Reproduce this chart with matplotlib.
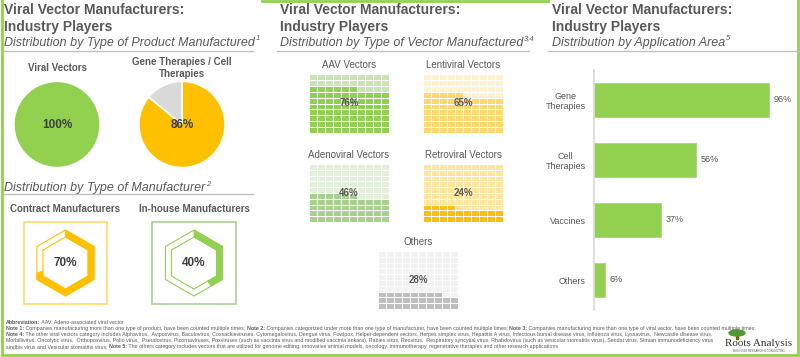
import numpy as np
import matplotlib
matplotlib.use("Agg")
import matplotlib.pyplot as plt
from matplotlib.colors import ListedColormap
from matplotlib.patches import Polygon, Rectangle, Ellipse

plt.rcParams['font.family'] = ['Liberation Sans', 'DejaVu Sans']

W, H = 800, 357
GREEN = '#92D050'
YELLOW = '#FFC000'
GREY = '#595959'

# ---- data ----
product_labels = ['Viral Vectors', 'Gene Therapies / Cell\nTherapies']
product_pct = [100, 86]

manufacturer_labels = ['Contract Manufacturers', 'In-house Manufacturers']
manufacturer_pct = [70, 40]

vector_labels = ['AAV Vectors', 'Lentiviral Vectors', 'Adenoviral Vectors',
                 'Retroviral Vectors', 'Others']
vector_pct = [76, 65, 46, 24, 28]

app_labels = ['Gene\nTherapies', 'Cell\nTherapies', 'Vaccines', 'Others']
app_pct = [96, 56, 37, 6]

fig = plt.figure(figsize=(W / 100, H / 100), dpi=100)
canvas = fig.add_axes([0, 0, 1, 1])
canvas.set_xlim(0, W)
canvas.set_ylim(H, 0)
canvas.axis('off')
renderer = fig.canvas.get_renderer()


def box(x0, y0, x1, y1):
    return [x0 / W, 1 - y1 / H, (x1 - x0) / W, (y1 - y0) / H]


def right_edge(t):
    bb = t.get_window_extent(renderer)
    return bb.x1


def rich(x, y, parts, size, color=GREY):
    # parts: list of (text, weight)
    for s, wt in parts:
        t = canvas.text(x, y, s, fontsize=size, fontweight=wt, color=color,
                        va='center', ha='left')
        x = right_edge(t)


def header(x, y_sep, x_sep0, x_sep1, sub, sup):
    canvas.text(x, 10, 'Viral Vector Manufacturers:', fontsize=10, fontweight='bold',
                color=GREY, va='center')
    canvas.text(x, 27, 'Industry Players', fontsize=10, fontweight='bold',
                color=GREY, va='center')
    subtitle(x, 43, sub, sup)
    canvas.plot([x_sep0, x_sep1], [y_sep, y_sep], color='#BFBFBF', lw=1)


def subtitle(x, y, sub, sup):
    t = canvas.text(x, y, sub, fontsize=9, style='italic', color=GREY, va='center')
    canvas.text(right_edge(t) + 0.5, y - 4, sup, fontsize=5.5, style='italic',
                color=GREY, va='center')


# ---- borders ----
canvas.plot([1.5, 1.5], [0, 354], color=GREEN, lw=2)
canvas.plot([797.5, 797.5], [0, 354], color=GREEN, lw=2)
canvas.plot([1.5, 797.5], [354.5, 354.5], color=GREEN, lw=2)
canvas.plot([262, 548], [0.5, 0.5], color=GREEN, lw=2)

# ---- headers ----
header(4, 51, 3, 253, 'Distribution by Type of Product Manufactured', '1')
header(280, 51, 277, 529, 'Distribution by Type of Vector Manufactured', '3,4')
header(552, 51, 548, 798, 'Distribution by Application Area', '5')

# ---- pies ----
pie_centers = [(57, 124.5), (182, 124.5)]
pie_colors = [[GREEN], [YELLOW, '#D9D9D9']]
pie_r = 44
for (cx, cy), lab, pct, cols in zip(pie_centers, product_labels, product_pct, pie_colors):
    ax = fig.add_axes(box(cx - pie_r, cy - pie_r, cx + pie_r, cy + pie_r))
    vals = [pct] if pct >= 100 else [pct, 100 - pct]
    ax.pie(vals, colors=cols, startangle=90, counterclock=False, radius=1,
           wedgeprops=dict(edgecolor='white', linewidth=1.2))
    ax.set_xlim(-1.02, 1.02)
    ax.set_ylim(-1.02, 1.02)
    ax.text(0, 0, f'{pct}%', fontsize=8.5, fontweight='bold', color='#404040',
            ha='center', va='center')
    canvas.text(cx, 68, lab, fontsize=7, fontweight='bold', color=GREY,
                ha='center', va='center', linespacing=1.2)

# ---- manufacturer type hexagons ----
subtitle(4, 188, 'Distribution by Type of Manufacturer', '2')
canvas.plot([3, 253], [194, 194], color='#BFBFBF', lw=1)

hex_boxes = [(24, 222, 107, 304), (152, 222, 236, 304)]
hex_colors = [(YELLOW, '#FFD966'), (GREEN, '#A9D18E')]


def hex_point(cx, cy, r, t):
    ang = np.deg2rad([90, 30, -30, -90, -150, 150, 90])
    vx = cx + r * np.cos(ang)
    vy = cy - r * np.sin(ang)
    t = t * 6
    i = min(int(np.floor(t)), 5)
    f = t - i
    return (vx[i] + (vx[i + 1] - vx[i]) * f, vy[i] + (vy[i + 1] - vy[i]) * f)


def hex_path(cx, cy, r, t0, t1):
    ts = [t0] + [k / 6 for k in range(1, 6) if t0 < k / 6 < t1] + [t1]
    return [hex_point(cx, cy, r, t) for t in ts]


for (x0, y0, x1, y1), lab, pct, (col, edge) in zip(hex_boxes, manufacturer_labels,
                                                     manufacturer_pct, hex_colors):
    canvas.add_patch(Rectangle((x0, y0), x1 - x0, y1 - y0, fill=False,
                               edgecolor=edge, lw=1.2))
    canvas.text((x0 + x1) / 2, 209, lab, fontsize=7, fontweight='bold', color=GREY,
                ha='center', va='center')
    cx, cy = (x0 + x1) / 2, 263
    ro, ri = 33, 26
    for r in (ro, ri):
        pts = hex_path(cx, cy, r, 0, 1)
        canvas.add_patch(Polygon(pts, closed=True, fill=False, edgecolor=col, lw=0.8))
    frac = pct / 100
    band = hex_path(cx, cy, ro, 0, frac) + hex_path(cx, cy, ri, 0, frac)[::-1]
    canvas.add_patch(Polygon(band, closed=True, facecolor=col, edgecolor=col, lw=0.5))
    canvas.text(cx, cy, f'{pct}%', fontsize=8.5, fontweight='bold', color='#404040',
                ha='center', va='center')

# ---- vector type waffles ----
waffle_boxes = [(309, 74, 389, 133), (423, 74, 503, 133), (309, 164, 389, 222),
                (423, 164, 503, 222), (378, 251, 458, 309)]
waffle_colors = [('#C9E3B5', GREEN), ('#FFF2CC', '#FFD966'), ('#E2F0D9', '#A9D18E'),
                 ('#FFE699', YELLOW), ('#F2F2F2', '#BFBFBF')]
for (x0, y0, x1, y1), lab, pct, cols in zip(waffle_boxes, vector_labels, vector_pct,
                                            waffle_colors):
    ax = fig.add_axes(box(x0, y0, x1, y1))
    cells = (np.arange(100).reshape(10, 10) < pct).astype(int)
    ax.pcolormesh(cells, cmap=ListedColormap(list(cols)), vmin=0, vmax=1,
                  edgecolors='white', linewidth=0.6)
    ax.set_xlim(0, 10)
    ax.set_ylim(0, 10)
    ax.axis('off')
    ax.text(5, 5, f'{pct}%', fontsize=7, fontweight='bold', color=GREY,
            ha='center', va='center')
    canvas.text((x0 + x1) / 2, y0 - 9, lab, fontsize=7, color=GREY,
                ha='center', va='center')

# ---- application area bars ----
bx = fig.add_axes(box(594, 70, 794, 310))
ypos = np.arange(len(app_pct))
bx.barh(ypos, app_pct, height=0.58, color=GREEN, edgecolor='#A9D18E', lw=0.6)
bx.set_xlim(0, 110)
bx.set_ylim(len(app_pct) - 0.5, -0.5)
bx.set_yticks(ypos)
bx.set_yticklabels(app_labels, fontsize=6.5, color=GREY, multialignment='center')
bx.tick_params(axis='y', length=0, pad=6)
bx.set_xticks([])
for s in ('top', 'right', 'bottom'):
    bx.spines[s].set_visible(False)
bx.spines['left'].set_color('#D9D9D9')
bx.spines['left'].set_linewidth(1.2)
bx.patch.set_alpha(0)
for y, v in zip(ypos, app_pct):
    bx.text(v + 2.6, y, f'{v}%', fontsize=6.5, color=GREY, va='center')

# ---- footnotes ----
B, N = 'bold', 'normal'
notes = [
    [('Abbreviation:', B), (' AAV: Adeno-associated viral vector', N)],
    [('Note 1:', B), (' Companies manufacturing more than one type of product, have been counted multiple times; ', N),
     ('Note 2:', B), (' Companies categorized under more than one type of manufacturer, have been counted multiple times; ', N),
     ('Note 3:', B), (' Companies manufacturing more than one type of viral vector, have been counted multiple times;', N)],
    [('Note 4:', B), (' The other viral vectors category includes Alphavirus,  Avipoxvirus, Baculovirus, Coxsackieviruses, '
                      'Cytomegalovirus, Dengue virus, Fowlpox, Helper-dependent vectors, Herpes simplex virus, Hepatitis A virus, '
                      'Infectious bursal disease virus, Influenza virus, Lyssavirus,  Newcastle disease virus,', N)],
    [('Morbillivirus, Oncolytic virus,  Orthopoxvirus, Polio virus,  Pseudovirus, Picornaviruses, Poxviruses (such as vaccinia '
      'virus and modified vaccinia ankara), Rabies virus, Reovirus,  Respiratory syncytial virus, Rhabdovirus (such as vesicular '
      'stomatitis virus), Sendai virus, Simian immunodeficiency virus', N)],
    [('sindbis virus and Vesicular stomatitis virus; ', N), ('Note 5:', B),
     (' The others category includes vectors that are utilized for genome editing, innovative animal models, oncology, '
      'immunotherapy, regenerative therapies and other research applications', N)],
]
for k, parts in enumerate(notes):
    rich(6, 322 + 6.2 * k, parts, 3.8)

# ---- logo ----
canvas.add_patch(Rectangle((736, 333), 1.5, 6, color='#7F6000'))
canvas.add_patch(Ellipse((737, 333), 16, 6, color='#4E9A2F'))
canvas.text(759, 344, 'Roots Analysis', fontsize=8, family='Liberation Serif',
            color='#333333', ha='center', va='center')
canvas.text(759, 351, 'BUSINESS RESEARCH & CONSULTING', fontsize=2, color='#555555',
            ha='center', va='center')

fig.savefig('out.png', dpi=100)
